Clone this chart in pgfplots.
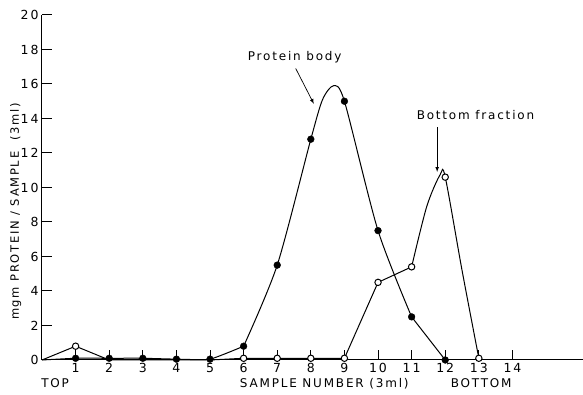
\documentclass[border=0pt]{standalone}
\usepackage{fontspec}
\setmainfont[LetterSpace=15]{DejaVu Sans}
\usepackage{pgfplots}
\pgfplotsset{compat=1.18}
\begin{document}
\begin{tikzpicture}
\useasboundingbox (-42pt,-35pt) rectangle (541pt,360pt);
\begin{axis}[
  at={(0,0)}, anchor=south west,
  scale only axis, width=541pt, height=345pt,
  xmin=0, xmax=16.1, ymin=0, ymax=20,
  axis lines=left, axis line style={-, line width=1pt},
  tick align=inside, major tick length=10pt,
  tick style={line width=1pt, black},
  xtick={1,2,...,14}, ytick={0,2,...,20},
  /pgf/number format/assume math mode=true,
  tick label style={font=\fontsize{12.5}{14}\selectfont},
  xticklabel style={yshift=0pt},
  clip=false,
]
% Bottom fraction (open circles) -- line
\addplot[black, line width=1pt, sharp plot] coordinates {(0,0) (1,0.8) (2,0) (3,0) (4,0) (5,0) (6,0.1) (7,0.1) (8,0.1) (9,0.1) (10,4.5) (11,5.4)};
\addplot[black, line width=1pt, smooth, tension=0.5] coordinates {(11,5.4) (11.45,8.9) (11.85,10.75) (12,10.6) (12.5,5.2) (13,0.1)};
% Protein body (filled) -- line
\addplot[black, line width=1pt, smooth, tension=0.3] coordinates {(0,0) (1,0.1) (2,0.1) (3,0.1) (4,0.05) (5,0.05) (6,0.8)};
\addplot[black, line width=1pt, smooth, tension=0.45] coordinates {(6,0.8) (7,5.5) (8,12.8) (8.35,15.1) (8.68,15.9) (9,15.0) (10,7.5) (11,2.5)};
\addplot[black, line width=1pt, sharp plot] coordinates {(11,2.5) (12,0)};
% markers
\addplot[only marks, mark=*, mark size=3.2pt, mark options={fill=white, draw=black, line width=1pt}] coordinates {(1,0.8) (6,0.1) (7,0.1) (8,0.1) (9,0.1) (10,4.5) (11,5.4) (12,10.6) (13,0.1)};
\addplot[only marks, mark=*, mark size=3.4pt, mark options={fill=black, draw=black}] coordinates {(1,0.1) (2,0.1) (3,0.1) (4,0.05) (5,0.05) (6,0.8) (7,5.5) (8,12.8) (9,15.0) (10,7.5) (11,2.5) (12,0)};
% annotations
\node[font=\fontsize{12}{14}\selectfont] at (axis cs:7.52,17.56) {Protein body};
\draw[-latex, line width=0.7pt] (axis cs:7.55,16.9) -- (axis cs:8.09,14.85);
\node[font=\fontsize{12}{14}\selectfont] at (axis cs:12.9,14.2) {Bottom fraction};
\draw[-latex, line width=0.7pt] (axis cs:11.76,13.5) -- (axis cs:11.76,10.9);
\node[font=\fontsize{12}{14}\selectfont] at (axis cs:0.39,-1.35) {TOP};
\node[font=\fontsize{12}{14}\selectfont] at (axis cs:8.4,-1.35) {SAMPLE NUMBER (3ml)};
\node[font=\fontsize{12}{14}\selectfont] at (axis cs:13.07,-1.35) {BOTTOM};
\node[rotate=90, font=\fontsize{11.5}{14}\selectfont] at (axis cs:-0.78,8.6) {mgm PROTEIN / SAMPLE \ (3ml)};
\end{axis}
\end{tikzpicture}
\end{document}
